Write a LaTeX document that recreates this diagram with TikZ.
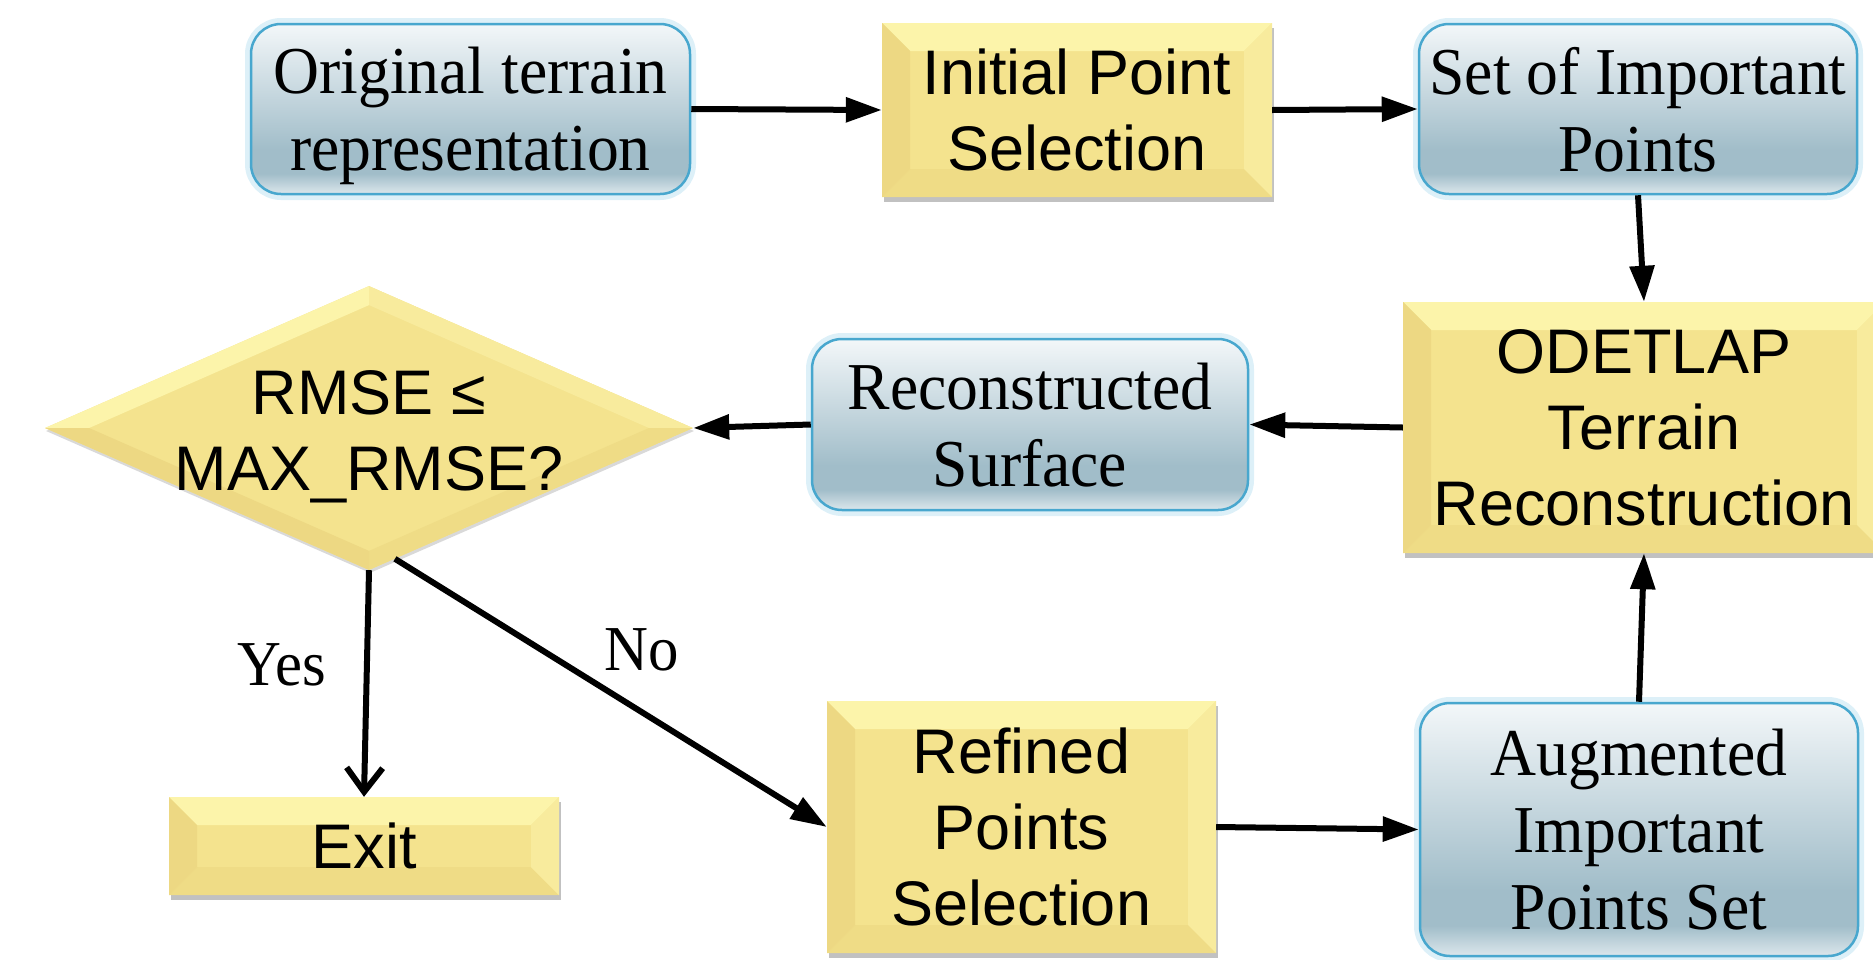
\documentclass[tikz,border=0pt]{standalone}
\usepackage{fontspec}
\setmainfont[FakeStretch=0.95]{Liberation Serif}
\newfontfamily\sansf{Liberation Sans}
\usetikzlibrary{shapes.geometric,arrows.meta,calc,shadows}

\definecolor{yel}{HTML}{F4E38E}
\definecolor{yTop}{HTML}{FCF4AA}
\definecolor{yBot}{HTML}{EFDC86}
\definecolor{yLeft}{HTML}{EDD883}
\definecolor{yRight}{HTML}{F8EB9D}
\definecolor{bT}{HTML}{F3F7F9}
\definecolor{bM}{HTML}{A1BDC9}
\definecolor{bB}{HTML}{DCE7EC}
\definecolor{bBorder}{HTML}{48A7CE}
\definecolor{bGlow}{HTML}{DDF0F8}

\pgfdeclareverticalshading{blueshade}{100bp}{color(0bp)=(bB); color(25bp)=(bB); color(31bp)=(bM); color(38bp)=(bM); color(75bp)=(bT); color(100bp)=(bT)}

\newcommand\serifbig{\fontsize{67}{77}\selectfont}
\newcommand\sansbig{\sansf\fontsize{63}{76}\selectfont}
\newcommand\labelfont{\fontsize{64}{74}\selectfont}

\newcommand\ybevel[1]{%
 \fill[yTop] (path picture bounding box.north west) -- (path picture bounding box.north east) -- ([xshift=-#1,yshift=-#1]path picture bounding box.north east) -- ([xshift=#1,yshift=-#1]path picture bounding box.north west) -- cycle;
 \fill[yBot] (path picture bounding box.south west) -- (path picture bounding box.south east) -- ([xshift=-#1,yshift=#1]path picture bounding box.south east) -- ([xshift=#1,yshift=#1]path picture bounding box.south west) -- cycle;
 \fill[yLeft] (path picture bounding box.north west) -- ([xshift=#1,yshift=-#1]path picture bounding box.north west) -- ([xshift=#1,yshift=#1]path picture bounding box.south west) -- (path picture bounding box.south west) -- cycle;
 \fill[yRight] (path picture bounding box.north east) -- ([xshift=-#1,yshift=-#1]path picture bounding box.north east) -- ([xshift=-#1,yshift=#1]path picture bounding box.south east) -- (path picture bounding box.south east) -- cycle;
}
\newcommand\dbevel{%
 \fill[yTop] (path picture bounding box.west) -- (path picture bounding box.north) -- ([yshift=-19pt]path picture bounding box.north) -- ([xshift=44pt]path picture bounding box.west) -- cycle;
 \fill[yRight] (path picture bounding box.north) -- (path picture bounding box.east) -- ([xshift=-44pt]path picture bounding box.east) -- ([yshift=-19pt]path picture bounding box.north) -- cycle;
 \fill[yBot] (path picture bounding box.east) -- (path picture bounding box.south) -- ([yshift=19pt]path picture bounding box.south) -- ([xshift=-44pt]path picture bounding box.east) -- cycle;
 \fill[yLeft] (path picture bounding box.south) -- (path picture bounding box.west) -- ([xshift=44pt]path picture bounding box.west) -- ([yshift=19pt]path picture bounding box.south) -- cycle;
}

\begin{document}
\begin{tikzpicture}[x=1pt,y=-1pt,
  bluebox/.style={rectangle, rounded corners=30pt, shade, shading=blueshade,
    draw=bBorder, line width=2.5pt, preaction={draw=bGlow, line width=12pt},
    align=center, font=\serifbig, inner sep=0pt, text depth=0pt},
  yelbox/.style={rectangle, fill=yel, align=center, font=\sansbig, inner sep=0pt, text depth=0pt,
    drop shadow={shadow xshift=2pt, shadow yshift=-5pt, opacity=0.35, fill=black!70},
    path picture={\ybevel{28pt}}},
  decision/.style={diamond, fill=yel, inner sep=0pt,
    drop shadow={shadow xshift=1pt, shadow yshift=-3pt, opacity=0.25, fill=black!60},
    path picture={\dbevel}},
  dtext/.style={align=center, font=\sansbig, inner sep=0pt, text depth=0pt},
  arr/.style={line width=6pt, -{Triangle[length=36pt,width=24pt]}},
  lbl/.style={font=\labelfont, inner sep=0pt, anchor=base}
]
\clip (0,0) rectangle (1873,959);

\node[bluebox, minimum width=439pt, minimum height=170pt] (orig) at (470.5,109) {Original terrain\\representation};
\node[yelbox, minimum width=390pt, minimum height=174pt] (init) at (1077,110) {Initial Point\\Selection};
\node[bluebox, minimum width=438pt, minimum height=170pt] (set) at (1638,109) {Set of Important\\Points};
\node[yelbox, minimum width=482pt, minimum height=251pt] (odet) at (1644,427.5) {ODETLAP\\Terrain\\Reconstruction};
\node[bluebox, minimum width=436pt, minimum height=171pt] (recon) at (1030,424.5) {Reconstructed\\Surface};
\node[decision, minimum width=648pt, minimum height=284pt] (d) at (369,428) {};
\node[dtext] (dt) at ([yshift=-2pt]d.center) {RMSE ≤\\MAX\_RMSE?};
\node[yelbox, minimum width=390pt, minimum height=98pt] (exit) at (364,846) {Exit};
\node[yelbox, minimum width=389pt, minimum height=252pt] (ref) at (1021.5,827) {Refined\\Points\\Selection};
\node[bluebox, minimum width=438pt, minimum height=253pt] (aug) at (1639,829.5) {Augmented\\Important\\Points Set};

\node[lbl] (yes) at (282,685) {Yes};
\node[lbl] (no) at (642,670) {No};

\draw[arr] (orig.east) -- (init.west);
\draw[arr] (init.east) -- (set.west);
\draw[arr] (set.south) -- (odet.north);
\draw[arr] (odet.west) -- (recon.east);
\draw[arr] (recon.west) -- (d.east);
\draw[line width=6pt, -{Straight Barb[length=24pt,width=36pt]}] (d.south) -- (exit.north);
\draw[arr] ($(d.south)!0.08!(d.east)$) -- (ref.west);
\draw[arr] (ref.east) -- (aug.west);
\draw[arr] (aug.north) -- (odet.south);
\end{tikzpicture}
\end{document}
